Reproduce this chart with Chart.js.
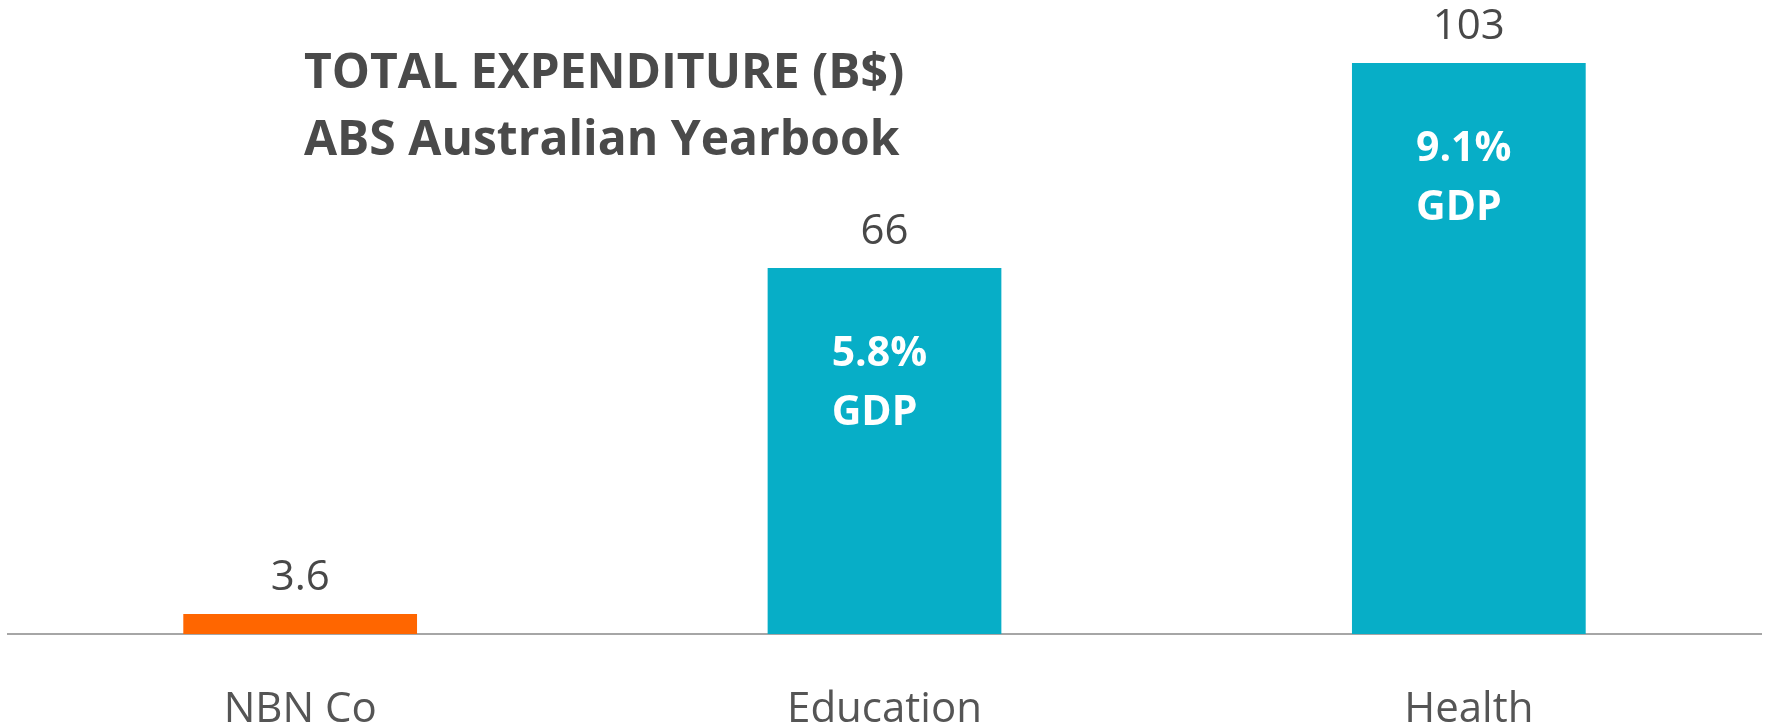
<!DOCTYPE html>
<html>
<head>
<meta charset="utf-8">
<script src="https://cdn.jsdelivr.net/npm/chart.js@4"></script>
<style>
    html, body { margin: 0; padding: 0; background: #ffffff; }
    #wrap { width: 1767px; height: 728px; position: relative; }
</style>
</head>
<body>
<div id="wrap"><canvas id="spend-bar"></canvas></div>
<script>
// Values
const categories = ["NBN Co", "Education", "Health"];
const spend_values = [3.6, 66, 103];
const gdp_labels = [null, ["5.8%", "GDP"], ["9.1%", "GDP"]];
const bar_colours = ["#ff6600", "#07aec7", "#07aec7"];
const title_lines = ["TOTAL EXPENDITURE (B$)", "ABS Australian Yearbook"];

const text_grey = "#484848";

// Draws the title, the value above each bar and the % GDP inside the bars
const labelPlugin = {
    id: "labels",
    afterDatasetsDraw(chart) {
        const ctx = chart.ctx;
        const meta = chart.getDatasetMeta(0);
        ctx.save();

        meta.data.forEach((bar, i) => {
            // value above bar
            ctx.font = "42px 'Open Sans'";
            ctx.fillStyle = text_grey;
            ctx.textAlign = "center";
            ctx.textBaseline = "alphabetic";
            ctx.fillText(String(spend_values[i]), bar.x, bar.y - 24);

            // % of GDP inside bar
            if (gdp_labels[i]) {
                const left = bar.x - bar.width / 2 + 64;
                ctx.font = "bold 41px 'Open Sans'";
                ctx.fillStyle = "#ffffff";
                ctx.textAlign = "left";
                gdp_labels[i].forEach((line, k) => {
                    ctx.fillText(line, left, bar.y + 98 + k * 59);
                });
            }
        });

        // title block
        ctx.font = "bold 48px 'Open Sans'";
        ctx.fillStyle = "#4a4a4a";
        ctx.textAlign = "left";
        title_lines.forEach((line, k) => {
            ctx.fillText(line, 304, 88 + k * 67);
        });

        ctx.restore();
    }
};

const config_bar = {
    type: "bar",
    data: {
        labels: categories,
        datasets: [{
            data: spend_values,
            backgroundColor: bar_colours,
            borderWidth: 0,
            categoryPercentage: 1.0,
            barPercentage: 0.4
        }]
    },
    options: {
        responsive: true,
        maintainAspectRatio: false,
        animation: false,
        events: [],
        layout: {
            padding: { left: 8, right: 6, top: 2, bottom: 0 }
        },
        plugins: {
            legend: { display: false },
            tooltip: { enabled: false }
        },
        scales: {
            x: {
                grid: { display: false, drawTicks: false },
                border: { display: true, color: "#a6a6a6", width: 2 },
                ticks: {
                    color: "#555555",
                    padding: 55,
                    font: { family: "'Open Sans'", size: 42, lineHeight: 1.0 }
                },
                // fixed axis height so the baseline lands where the reference has it
                afterFit(scale) {
                    scale.height = 94;
                }
            },
            y: {
                display: false,
                min: 0,
                max: 114
            }
        }
    },
    plugins: [labelPlugin]
};

const ctx_bar = document.getElementById("spend-bar").getContext("2d");
const bar_chart = new Chart(ctx_bar, config_bar);
</script>
</body>
</html>
